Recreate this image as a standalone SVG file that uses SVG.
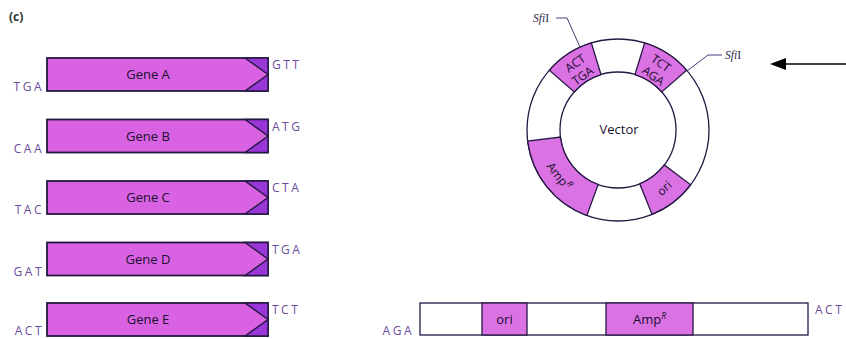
<svg xmlns="http://www.w3.org/2000/svg" width="846" height="339" viewBox="0 0 846 339">
<style>
.box{fill:#d862e2;stroke:#241842;stroke-width:1.8}
.tip{fill:#9a36d8;stroke:#241842;stroke-width:1.4;stroke-linejoin:miter}
.seg{fill:#da72e4;stroke:#241842;stroke-width:1.3}
.plain{fill:#ffffff;stroke:#241842;stroke-width:1.3}
.ring{fill:none;stroke:#241842;stroke-width:1.3}
.name{font-family:"Open Sans","Liberation Sans",sans-serif;font-size:13px;fill:#1a1030;text-anchor:middle}
.codon{font-family:"Open Sans","Liberation Sans",sans-serif;font-size:12px;fill:#6a4c9c;letter-spacing:2.5px}
.rt{font-family:"Open Sans","Liberation Sans",sans-serif;font-size:12px;fill:#1a1030;text-anchor:middle;dominant-baseline:central}
.sfi{font-family:"Liberation Serif",serif;font-size:11.5px;fill:#2a1d4a}
.lead{fill:none;stroke:#4a3a7a;stroke-width:1}
</style>
<text x="9" y="21" font-family="Open Sans, Liberation Sans, sans-serif" font-size="12" font-weight="bold" fill="#333">(c)</text>

<g id="geneA">
<rect class="box" x="47" y="58" width="221" height="33"/>
<path class="tip" d="M245,58 L268,58 L268,91 L245,91 L268,74.5 Z"/>
<text class="name" x="148" y="79">Gene A</text>
<text class="codon" x="44" y="91" text-anchor="end">TGA</text>
<text class="codon" x="272" y="69">GTT</text>
</g>
<g id="geneB">
<rect class="box" x="47" y="119.5" width="221" height="33"/>
<path class="tip" d="M245,119.5 L268,119.5 L268,152.5 L245,152.5 L268,136 Z"/>
<text class="name" x="148" y="140.5">Gene B</text>
<text class="codon" x="44" y="152.5" text-anchor="end">CAA</text>
<text class="codon" x="272" y="130.5">ATG</text>
</g>
<g id="geneC">
<rect class="box" x="47" y="181" width="221" height="33"/>
<path class="tip" d="M245,181 L268,181 L268,214 L245,214 L268,197.5 Z"/>
<text class="name" x="148" y="202">Gene C</text>
<text class="codon" x="44" y="214" text-anchor="end">TAC</text>
<text class="codon" x="272" y="192">CTA</text>
</g>
<g id="geneD">
<rect class="box" x="47" y="242.5" width="221" height="33"/>
<path class="tip" d="M245,242.5 L268,242.5 L268,275.5 L245,275.5 L268,259 Z"/>
<text class="name" x="148" y="263.5">Gene D</text>
<text class="codon" x="44" y="275.5" text-anchor="end">GAT</text>
<text class="codon" x="272" y="253.5">TGA</text>
</g>
<g id="geneE">
<rect class="box" x="47" y="303" width="221" height="33"/>
<path class="tip" d="M245,303 L268,303 L268,336 L245,336 L268,319.5 Z"/>
<text class="name" x="148" y="324">Gene E</text>
<text class="codon" x="44" y="334.5" text-anchor="end">ACT</text>
<text class="codon" x="272" y="314">TCT</text>
</g>

<g id="vector">
<circle class="ring" cx="618" cy="130" r="91"/>
<circle class="ring" cx="618" cy="130" r="58"/>
<path class="seg" d="M549.32,70.30 A91,91 0 0 1 591.39,42.98 L601.04,74.53 A58,58 0 0 0 574.23,91.95 Z"/>
<path class="seg" d="M644.61,42.98 A91,91 0 0 1 686.68,70.30 L661.77,91.95 A58,58 0 0 0 634.96,74.53 Z"/>
<path class="seg" d="M586.88,215.51 A91,91 0 0 1 527.68,141.09 L560.43,137.07 A58,58 0 0 0 598.16,184.50 Z"/>
<path class="seg" d="M690.67,184.76 A91,91 0 0 1 652.09,214.37 L639.73,183.78 A58,58 0 0 0 664.32,164.90 Z"/>
<text class="rt" transform="translate(575,63) rotate(-35)">ACT</text>
<text class="rt" transform="translate(582.5,75.5) rotate(-35)">TGA</text>
<text class="rt" transform="translate(661,63) rotate(35)">TCT</text>
<text class="rt" transform="translate(653.5,75.5) rotate(35)">AGA</text>
<text class="rt" transform="translate(559,176) rotate(52)">Amp<tspan font-size="8.5" font-style="italic" dy="-5">R</tspan></text>
<text class="rt" transform="translate(664,188) rotate(-42)">ori</text>
<text class="name" x="619" y="134">Vector</text>
</g>

<g id="sfi-left">
<text class="sfi" x="533" y="22"><tspan font-style="italic">Sfi</tspan>I</text>
<polyline class="lead" points="556,18 567,18 580,47"/>
</g>
<g id="sfi-right">
<text class="sfi" x="725" y="59"><tspan font-style="italic">Sfi</tspan>I</text>
<polyline class="lead" points="722,55 708,55 687,71"/>
</g>

<g id="linear">
<rect class="plain" x="420" y="303" width="388" height="32"/>
<rect class="seg" x="482" y="303" width="45" height="32"/>
<rect class="seg" x="606" y="303" width="87" height="32"/>
<text class="name" x="504.5" y="324">ori</text>
<text class="name" x="649.5" y="324">Amp<tspan font-size="8.5" font-style="italic" dy="-5">R</tspan></text>
<text class="codon" x="414" y="334.5" text-anchor="end">AGA</text>
<text class="codon" x="815" y="314" letter-spacing="2">ACT</text>
</g>

<g id="connectors">
<line x1="846" y1="64" x2="784" y2="64" stroke="#000" stroke-width="1.5"/>
<polygon points="770,64 786,58 786,70" fill="#000"/>
</g>
</svg>
